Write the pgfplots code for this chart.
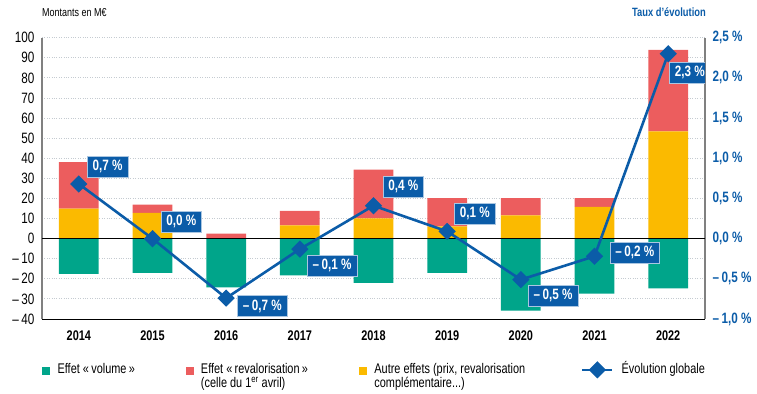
\documentclass[border=0pt]{standalone}
\usepackage{fontspec}
\setmainfont{Liberation Sans}[FakeStretch=0.78]
\usepackage{pgfplots}
\usepackage{pgfplotstable}
\pgfplotsset{compat=1.18}
\definecolor{cgreen}{HTML}{00A58A}
\definecolor{cred}{HTML}{EC5D5E}
\definecolor{cyellow}{HTML}{FBBA00}
\definecolor{cblue}{HTML}{0B5CA8}
\definecolor{cgrid}{HTML}{C5CBD1}
\definecolor{caxis}{HTML}{808080}

\pgfplotstableread{
x vol reval autres
0 -17.6 23.2 14.9
1 -17.1 4.1 12.8
2 -24.2 2.5 0
3 -18.3 7.2 6.6
4 -22.0 24.2 10.1
5 -17.1 14.1 6.1
6 -35.8 8.6 11.6
7 -27.4 4.4 15.8
8 -24.7 40.6 53.4
}\bars

\pgfplotstableread{
x taux
0 0.68
1 0.00
2 -0.74
3 -0.13
4 0.41
5 0.09
6 -0.51
7 -0.22
8 2.30
}\taux

\pgfplotsset{
  base/.style={
    scale only axis, width=663bp, height=281.3bp,
    at={(42bp,75bp)}, anchor=south west,
    xmin=-0.5, xmax=8.5, enlargelimits=false,
    /pgf/number format/assume math mode=true,
    major tick length=0pt,
  },
  linelegend/.style={legend image code/.code={\draw[mark repeat=2, mark phase=2, ##1] plot coordinates {(0bp,3.5bp) (15bp,3.5bp) (30bp,3.5bp)};}},
}
\tikzset{
  lbl/.style={fill=cblue, draw=white!65!cblue, line width=0.5bp, text=white,
    font=\bfseries\fontsize{15bp}{17bp}\selectfont,
    inner xsep=5.5bp, inner ysep=4bp, text height=10.5bp, text depth=2.5bp, anchor=west},
}

\begin{document}
\begin{tikzpicture}
\path[use as bounding box] (0,0) rectangle (757bp,394bp);

% positive stacked bars + left axis + grid
\begin{axis}[base,
  ymin=-40, ymax=100,
  ytick={-40,-30,...,100},
  yticklabels={–\,40,–\,30,–\,20,–\,10,0,10,20,30,40,50,60,70,80,90,100},
  xtick={0,...,8},
  xticklabels={2014,2015,2016,2017,2018,2019,2020,2021,2022},
  axis x line*=bottom, axis y line*=left,
  x axis line style={black, line width=1bp, -},
  y axis line style={caxis, line width=1.4bp, -},
  ymajorgrids, grid style={cgrid, dotted, line width=0.9bp},
  yticklabel style={font=\fontsize{15bp}{17bp}\selectfont, xshift=-4bp},
  xticklabel style={font=\bfseries\fontsize{14bp}{16bp}\selectfont, yshift=-8bp},
  ybar stacked, bar width=0.54,
]
\addplot[fill=cyellow, draw=none] table[x=x, y=autres] {\bars};
\addplot[fill=cred, draw=none] table[x=x, y=reval] {\bars};
\end{axis}

% negative bars
\begin{axis}[base, ymin=-40, ymax=100, hide axis, ybar, bar width=0.54, bar shift=0pt]
\addplot[fill=cgreen, draw=none] table[x=x, y=vol] {\bars};
\end{axis}

% right axis, line, labels, legend
\begin{axis}[base,
  ymin=-1, ymax=2.5,
  ytick={-1,-0.5,...,2.5},
  yticklabels={{–\,1,0~\%},{–\,0,5~\%},{0,0~\%},{0,5~\%},{1,0~\%},{1,5~\%},{2,0~\%},{2,5~\%}},
  axis x line=none, axis y line*=right,
  y axis line style={caxis, line width=1.4bp, -},
  yticklabel style={font=\bfseries\fontsize{15bp}{17bp}\selectfont, text=cblue, xshift=4bp},
  legend columns=4,
  legend style={at={(0,0)}, anchor=north west, yshift=-42bp, draw=none, fill=none,
    inner sep=0pt, cells={anchor=base west},
    nodes={inner sep=0pt},
    font=\fontsize{14bp}{14bp}\selectfont,
    /tikz/every odd column/.append style={column sep=8bp},
    /tikz/every even column/.append style={column sep=0bp}},
]
\addplot[black, line width=0.9bp, forget plot] coordinates {(-0.5,0) (8.5,0)};
\addlegendimage{legend image code/.code={\fill[cgreen] (0bp,-0.5bp) rectangle (7bp,6.5bp);}}
\addlegendimage{legend image code/.code={\fill[cred] (0bp,-0.5bp) rectangle (7bp,6.5bp);}}
\addlegendimage{legend image code/.code={\fill[cyellow] (0bp,-0.5bp) rectangle (7bp,6.5bp);}}
\addplot[cblue, line width=2.6bp, mark=square*, mark size=4.8bp,
  mark options={rotate=45, solid, fill=cblue}, linelegend]
  table[x=x, y=taux] {\taux};
\legend{
  {\parbox[t]{128bp}{\raggedright\baselineskip=14bp Effet «\,volume\,»}},
  {\parbox[t]{158bp}{\raggedright\baselineskip=14bp Effet «\,revalorisation\,»\\(celle du 1\textsuperscript{er} avril)}},
  {\parbox[t]{206.7bp}{\raggedright\baselineskip=14bp Autre effets (prix, revalorisation\\complémentaire...)}},
  {Évolution globale}}

\node[lbl, xshift=8bp, yshift=17bp] at (axis cs:0,0.68) {0,7~\%};
\node[lbl, xshift=8bp, yshift=17.3bp] at (axis cs:1,0.00) {0,0~\%};
\node[lbl, xshift=11bp, yshift=-8bp] at (axis cs:2,-0.74) {–\,0,7~\%};
\node[lbl, xshift=7bp, yshift=-16.7bp] at (axis cs:3,-0.13) {–\,0,1~\%};
\node[lbl, xshift=9bp, yshift=18.7bp] at (axis cs:4,0.41) {0,4~\%};
\node[lbl, xshift=7bp, yshift=17.5bp] at (axis cs:5,0.09) {0,1~\%};
\node[lbl, xshift=7bp, yshift=-16bp] at (axis cs:6,-0.51) {–\,0,5~\%};
\node[lbl, xshift=15bp, yshift=4bp] at (axis cs:7,-0.22) {–\,0,2~\%};
\node[lbl, xshift=1bp, yshift=-19bp] at (axis cs:8,2.30) {2,3~\%};
\end{axis}

\node[anchor=base west, inner sep=0pt, font=\fontsize{11.5bp}{13bp}\selectfont] at (42bp,377bp) {Montants en M€};
\node[anchor=base east, inner sep=0pt, text=cblue, font=\bfseries\fontsize{12bp}{13bp}\selectfont] at (706bp,377bp) {Taux d'évolution};
\end{tikzpicture}
\end{document}
